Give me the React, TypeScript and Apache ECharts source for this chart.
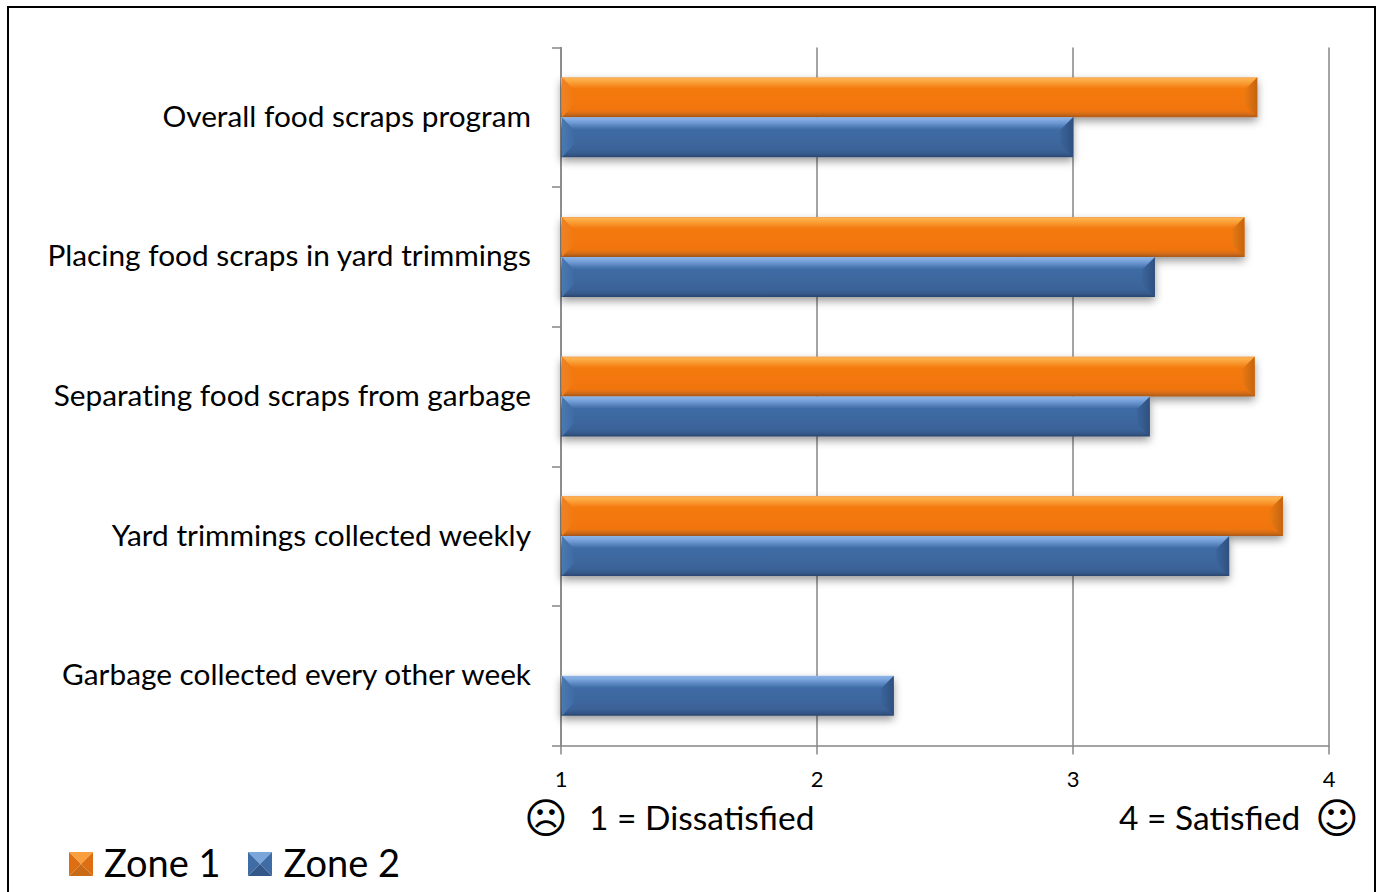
import React, { useEffect, useRef } from "react";
import * as echarts from "echarts";

const categories = [
  "Overall food scraps program",
  "Placing food scraps in yard trimmings",
  "Separating food scraps from garbage",
  "Yard trimmings collected weekly",
  "Garbage collected every other week",
];
const zone1 = [3.72, 3.67, 3.71, 3.82, null];
const zone2 = [3.0, 3.32, 3.3, 3.61, 2.3];
const valueTicks = [1, 2, 3, 4];

const FONT = "Lato, 'Open Sans', sans-serif";
const BAR = 40;
const GRID = { left: 561, right: 51, top: 47.5, bottom: 146.5 };

const grad = (stops: [number, string][]) =>
  new echarts.graphic.LinearGradient(0, 0, 0, 1, stops.map(([offset, color]) => ({ offset, color })));
const hgrad = (a: string, b: string) =>
  new echarts.graphic.LinearGradient(0, 0, 1, 0, [{ offset: 0, color: a }, { offset: 1, color: b }]);

const orange = () =>
  grad([
    [0, "#f5a55c"], [0.05, "#fdb04a"], [0.12, "#fba23a"], [0.28, "#f47a10"],
    [0.82, "#f1750f"], [0.92, "#d36c17"], [1, "#a9591c"],
  ]);
const blue = () =>
  grad([
    [0, "#8fb4e3"], [0.06, "#82abe2"], [0.14, "#6d98d2"], [0.3, "#3f6ca5"],
    [0.82, "#3b6398"], [0.92, "#35598a"], [1, "#2b466e"],
  ]);

function bevel(side: number, dark: () => any, light: () => any) {
  return (_: any, api: any) => {
    const v = api.value(0);
    const end = api.coord([v, api.value(1)]);
    const start = api.coord([1, api.value(1)]);
    const cy = end[1] + side * (BAR / 2);
    const t = cy - BAR / 2;
    const b = cy + BAR / 2;
    const d = 13;
    return {
      type: "group",
      children: [
        {
          type: "polygon",
          shape: { points: [[end[0], t], [end[0], b], [end[0] - d, b - d], [end[0] - d, t + d]] },
          style: { fill: dark() },
        },
        {
          type: "polygon",
          shape: { points: [[start[0] + 1, t], [start[0] + 1, b], [start[0] + d, b - d], [start[0] + d, t + d]] },
          style: { fill: light() },
        },
      ],
    };
  };
}

const points = (vals: (number | null)[]) =>
  vals.map((v, i) => (v == null ? null : [v, i])).filter(Boolean);

// Small pyramid drawn over a legend swatch, in the swatch's own pixels.
function pyramid(x: number, y: number, top: string, side: string, bottom: string) {
  const s = 24;
  const m = s / 2;
  const tri = (pts: number[][], fill: any) => ({
    type: "polygon",
    z: 101,
    shape: { points: pts.map(([a, b]) => [x + a, y + b]) },
    style: { fill },
  });
  return [
    tri([[0, 0], [s, 0], [m, m]], top),
    tri([[0, 0], [0, s], [m, m]], side),
    tri([[s, 0], [s, s], [m, m]], side),
    tri([[0, s], [s, s], [m, m]], bottom),
  ];
}

export default function App() {
  const ref = useRef<HTMLDivElement>(null);
  useEffect(() => {
    const chart = echarts.init(ref.current!, undefined, { renderer: "svg" });
    const shadow = { shadowBlur: 8, shadowOffsetY: 4, shadowColor: "rgba(0,0,0,0.4)" };
    chart.setOption({
      animation: false,
      backgroundColor: "#ffffff",
      grid: { ...GRID, containLabel: false },
      legend: {
        left: 64,
        top: 838,
        data: ["Zone 1", "Zone 2"],
        icon: "rect",
        itemWidth: 24,
        itemHeight: 24,
        itemGap: 28,
        formatter: (name: string) => `{a|${name}}`,
        textStyle: {
          fontFamily: FONT,
          fontSize: 38,
          color: "#000",
          rich: { a: { fontFamily: FONT, fontSize: 38, color: "#000", padding: [0, 0, 0, 6] } },
        },
        selectedMode: false,
      },
      xAxis: {
        type: "value",
        min: valueTicks[0],
        max: valueTicks[valueTicks.length - 1],
        interval: 1,
        axisLine: { show: true, lineStyle: { color: "#868686", width: 1.5 } },
        axisTick: { show: true, length: 9, lineStyle: { color: "#868686", width: 1.5 } },
        splitLine: { show: true, lineStyle: { color: "#868686", width: 1.5 } },
        axisLabel: { margin: 22, fontFamily: FONT, fontSize: 22, color: "#000" },
      },
      yAxis: {
        type: "category",
        inverse: true,
        data: categories,
        axisLine: { show: true, lineStyle: { color: "#868686", width: 1.5 } },
        axisTick: { show: true, length: 9, lineStyle: { color: "#868686", width: 1.5 } },
        axisLabel: {
          margin: 30,
          formatter: (name: string) => `{a|${name}}`,
          rich: { a: { fontFamily: FONT, fontSize: 29.8, color: "#000", padding: [0, 0, 4, 0] } },
        },
      },
      series: [
        {
          name: "Zone 1",
          type: "bar",
          data: zone1,
          barWidth: BAR,
          barGap: 0,
          itemStyle: { color: orange(), ...shadow },
        },
        {
          name: "Zone 2",
          type: "bar",
          data: zone2,
          barWidth: BAR,
          barGap: 0,
          itemStyle: { color: blue(), ...shadow },
        },
        {
          type: "custom",
          name: "Zone 1 bevel",
          renderItem: bevel(-1, () => hgrad("#ec7a12", "#c4640f"), () => hgrad("#ee8324", "#f2780f")),
          data: points(zone1),
          encode: { x: 0, y: 1 },
          z: 3,
          silent: true,
        },
        {
          type: "custom",
          name: "Zone 2 bevel",
          renderItem: bevel(1, () => hgrad("#3c659c", "#2f507f"), () => hgrad("#4a79b3", "#3e6ba3")),
          data: points(zone2),
          encode: { x: 0, y: 1 },
          z: 3,
          silent: true,
        },
      ],
      graphic: [
        { type: "rect", z: 100, shape: { x: 8, y: 7, width: 1367, height: 900 }, style: { fill: "none", stroke: "#000", lineWidth: 2 } },
        { type: "text", z: 100, x: 589, y: 800, style: { text: "1 = Dissatisfied", font: `33.5px ${FONT}`, fill: "#000" } },
        { type: "text", z: 100, x: 1119, y: 800, style: { text: "4 = Satisfied", font: `33.5px ${FONT}`, fill: "#000" } },
        { type: "text", z: 100, x: 546, y: 818, style: { text: "\u2639", font: "42px 'DejaVu Sans'", fill: "#000", align: "center", verticalAlign: "middle" } },
        { type: "text", z: 100, x: 1337, y: 818, style: { text: "\u263A", font: "42px 'DejaVu Sans'", fill: "#000", align: "center", verticalAlign: "middle" } },
        { type: "rect", z: 100, shape: { x: 60, y: 846, width: 40, height: 36 }, style: { fill: "#fff" } },
        { type: "rect", z: 100, shape: { x: 240, y: 846, width: 40, height: 36 }, style: { fill: "#fff" } },
        ...pyramid(69, 852, "#f9a03c", "#dd6f12", "#c96a17"),
        ...pyramid(248, 852, "#7ba6dc", "#3f6ca5", "#34578a"),
      ],
    });
    return () => chart.dispose();
  }, []);
  return (
    <div
      ref={ref}
      style={{ position: "fixed", left: 0, top: 0, width: 1380, height: 892, background: "#fff", fontVariantLigatures: "none" }}
    />
  );
}
